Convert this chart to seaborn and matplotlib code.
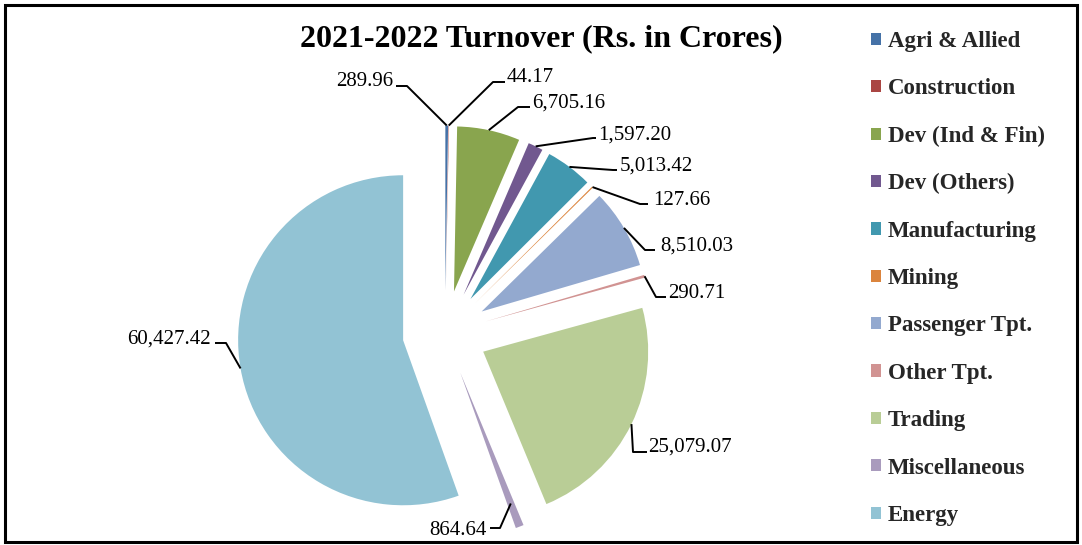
import matplotlib
matplotlib.use("Agg")
import matplotlib.pyplot as plt
import seaborn as sns
import numpy as np
from matplotlib.patches import Rectangle

# ---------------- data ----------------
categories = ["Agri & Allied", "Construction", "Dev (Ind & Fin)", "Dev (Others)",
              "Manufacturing", "Mining", "Passenger Tpt.", "Other Tpt.",
              "Trading", "Miscellaneous", "Energy"]
turnover = [289.96, 44.17, 6705.16, 1597.20, 5013.42, 127.66, 8510.03,
            290.71, 25079.07, 864.64, 60427.42]
colors = ["#4572A7", "#AA4643", "#89A54E", "#71588F", "#4198AF", "#DB843D",
          "#93A9CF", "#D19392", "#B9CD96", "#A99BBD", "#92C3D4"]
title = "2021-2022 Turnover (Rs. in Crores)"

# ---------------- style ----------------
sns.set_theme(style="white")
plt.rcParams["font.family"] = ["Liberation Serif", "DejaVu Serif"]

W, H = 1082, 545
fig = plt.figure(figsize=(W / 100, H / 100), dpi=100)
ax = fig.add_axes([0, 0, 1, 1])

R = 165
EXP = 42.5
CX, CY = 445, H - 333

wedges, _ = ax.pie(turnover, colors=colors, startangle=90, counterclock=False,
                   radius=R, center=(CX, CY), explode=[EXP] * len(turnover),
                   wedgeprops=dict(linewidth=0))
ax.set_xlim(0, W)
ax.set_ylim(0, H)
ax.set_aspect("equal")
ax.axis("off")

# leader-line layout (screen pixels, y measured from top)
# (start radius fraction, elbow, stub end, text anchor(baseline), ha)
layout = [
    (1.00, (407, 86), (396, 86), (393, 86), "right"),
    (1.00, (493, 82), (505, 82), (507, 82), "left"),
    (1.00, (518, 107), (530, 107), (532, 108), "left"),
    (1.00, (593, 138), (596, 138), (598, 140), "left"),
    (1.00, (613, 170), (617, 170), (620, 171), "left"),
    (1.00, (640, 204), (648, 204), (653, 205), "left"),
    (1.00, (645, 250), (655, 250), (660, 251), "left"),
    (1.00, (656, 297), (666, 297), (668, 298), "left"),
    (1.00, (633, 452), (647, 452), (648, 452), "left"),
    (0.85, (500, 528), (490, 528), (487, 535), "right"),
    (1.00, (226, 343), (215, 343), (211, 344), "right"),
]

for w, val, (frac, el, st, tp, ha) in zip(wedges, turnover, layout):
    th = np.deg2rad((w.theta1 + w.theta2) / 2)
    x0 = w.center[0] + frac * R * np.cos(th)
    y0 = w.center[1] + frac * R * np.sin(th)
    ax.plot([x0, el[0], st[0]], [y0, H - el[1], H - st[1]],
            color="black", lw=1.4, solid_capstyle="butt", zorder=3)
    ax.text(tp[0], H - tp[1], f"{val:,.2f}", ha=ha, va="baseline",
            fontsize=15, color="black")

fig.text(541.5 / W, 1 - 46 / H, title, ha="center", va="baseline",
         fontsize=23, fontweight="bold", color="black")

fig.legend(wedges, categories, loc="upper left",
           bbox_to_anchor=(871 / W, 1 - 31 / H), frameon=False,
           prop=dict(weight="bold", size=16.5), handlelength=0.45,
           handleheight=0.45, handletextpad=0.27, labelspacing=1.15,
           borderaxespad=0, borderpad=0)

fig.add_artist(Rectangle((5 / W, 3 / H), (1077 - 5) / W, (541 - 4) / H,
                         transform=fig.transFigure, fill=False,
                         edgecolor="black", lw=2.2))

fig.savefig("out.png", dpi=100)
